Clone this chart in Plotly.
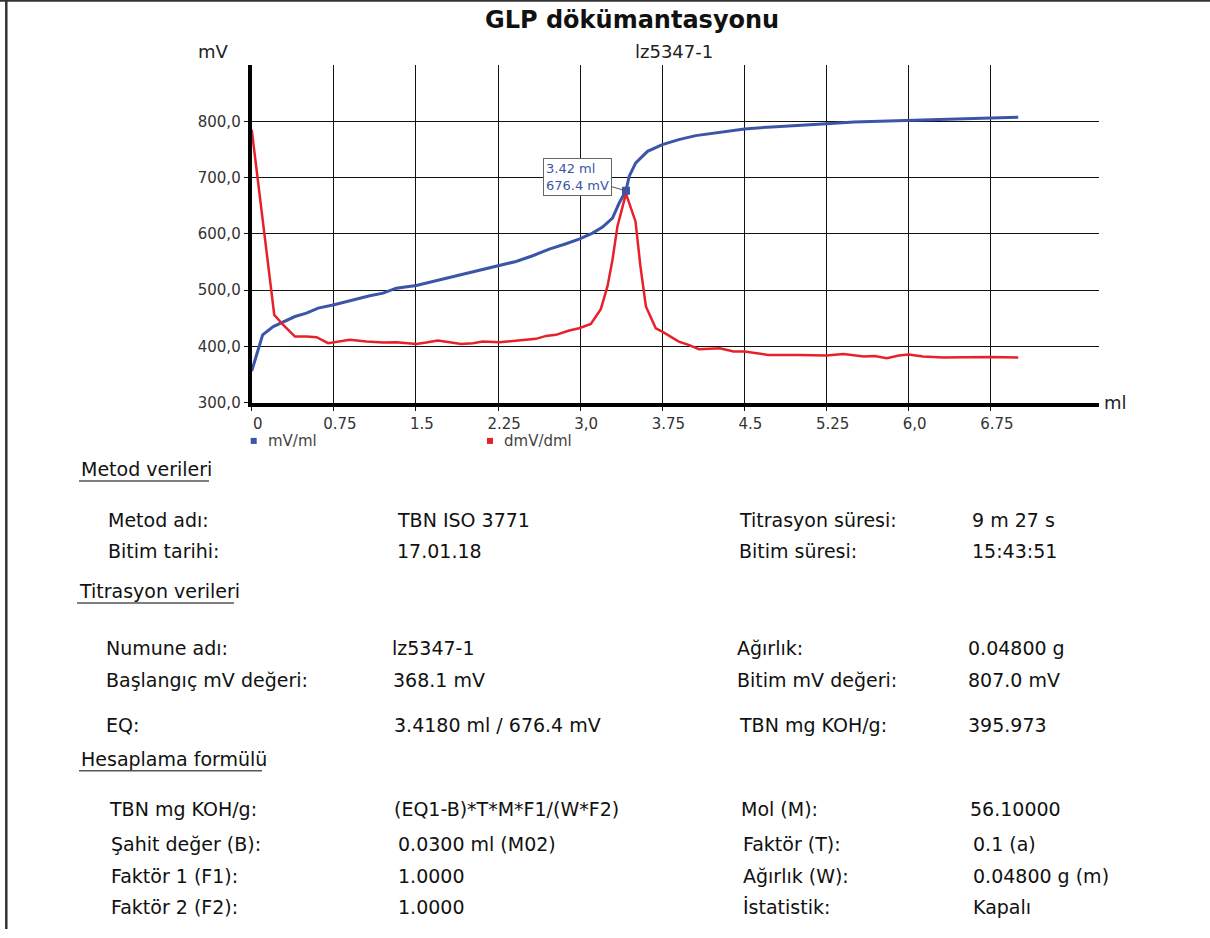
import plotly.graph_objects as go

# ---------------- data ----------------
mv_ml_x = [0.0, 0.10, 0.197, 0.395, 0.50, 0.607, 0.753, 0.926, 1.078, 1.20, 1.32, 1.503,
           1.655, 1.807, 1.96, 2.11, 2.253, 2.414, 2.566, 2.718, 2.87, 2.99, 3.113, 3.204,
           3.295, 3.356, 3.418, 3.447, 3.507, 3.615, 3.75, 3.90, 4.055, 4.275, 4.50, 4.75,
           5.0, 5.25, 5.50, 5.78, 6.0, 6.25, 6.505, 6.75, 7.0]
mv_ml_y = [356, 420.4, 435.2, 453, 459, 467.9, 473.8, 482.7, 489.8, 494.5, 503.4, 508.2,
           515.3, 523, 530.1, 537.3, 543.8, 550.9, 561, 572.8, 582.3, 590.6, 601.3, 612,
           628, 654.7, 676.4, 702, 725.9, 746.6, 758.5, 767.4, 774.5, 780.4, 786.4, 790,
           793.5, 795.8, 798.8, 800.6, 802.4, 803.6, 804.7, 805.9, 807.0]

dmv_x = [0.0, 0.206, 0.288, 0.395, 0.50, 0.592, 0.698, 0.774, 0.896, 1.048, 1.20, 1.32,
         1.503, 1.594, 1.70, 1.807, 1.913, 2.02, 2.11, 2.262, 2.384, 2.505, 2.596, 2.688,
         2.779, 2.90, 2.99, 3.097, 3.188, 3.249, 3.295, 3.34, 3.418, 3.505, 3.55, 3.60,
         3.69, 3.75, 3.90, 3.99, 4.085, 4.275, 4.40, 4.50, 4.715, 5.0, 5.25, 5.405, 5.59,
         5.69, 5.80, 5.91, 6.0, 6.13, 6.32, 6.505, 6.75, 7.0]
dmv_y = [785, 456, 438, 417.4, 417.4, 416.3, 405.6, 407.4, 411.5, 408.5, 406.8, 407.4,
         404.4, 406.8, 410.3, 407.4, 404.4, 405.6, 408.5, 407.4, 409.7, 411.5, 413.3, 418.6,
         420.4, 428.1, 432.3, 440, 466.1, 506.4, 553.9, 613.2, 671.3, 622, 542, 470.8,
         432, 426, 408.5, 402.6, 395, 396.7, 390.8, 390.8, 384.8, 384.8, 383.6, 386.6, 381.8,
         383, 378.9, 383.6, 385.4, 381.8, 380, 380.6, 381.2, 380]

eq_ml = 3.418
eq_mv = 676.4

x_tickvals = [0, 0.75, 1.5, 2.25, 3.0, 3.75, 4.5, 5.25, 6.0, 6.75]
x_ticktext = ["0", "0.75", "1.5", "2.25", "3,0", "3.75", "4.5", "5.25", "6,0", "6.75"]
y_tickvals = [300, 400, 500, 600, 700, 800]
y_ticktext = ["300,0", "400,0", "500,0", "600,0", "700,0", "800,0"]

series_names = ["mV/ml", "dmV/dml"]

title_text = "GLP dökümantasyonu"
sample_text = "lz5347-1"

sections = [
    ("Metod verileri", 79, 469, 209),
    ("Titrasyon verileri", 77, 591, 234),
    ("Hesaplama formülü", 79, 759, 262),
]

rows = [
    # (y, label1, x1, value1, x2, label2, x3, value2, x4)
    (520, "Metod adı:", 106, "TBN ISO 3771", 395, "Titrasyon süresi:", 737, "9 m 27 s", 970),
    (551, "Bitim tarihi:", 106, "17.01.18", 395, "Bitim süresi:", 737, "15:43:51", 970),
    (648, "Numune adı:", 104, "lz5347-1", 390, "Ağırlık:", 735, "0.04800 g", 966),
    (680, "Başlangıç mV değeri:", 104, "368.1 mV", 391, "Bitim mV değeri:", 735, "807.0 mV", 966),
    (725, "EQ:", 104, "3.4180 ml / 676.4 mV", 392, "TBN mg KOH/g:", 737, "395.973", 966),
    (809, "TBN mg KOH/g:", 107, "(EQ1-B)*T*M*F1/(W*F2)", 392, "Mol (M):", 739, "56.10000", 968),
    (844, "Şahit değer (B):", 109, "0.0300 ml (M02)", 396, "Faktör (T):", 741, "0.1 (a)", 971),
    (876, "Faktör 1 (F1):", 109, "1.0000", 396, "Ağırlık (W):", 741, "0.04800 g (m)", 971),
    (907, "Faktör 2 (F2):", 109, "1.0000", 396, "İstatistik:", 741, "Kapalı", 971),
]

# ---------------- style ----------------
W, H = 1210, 938
KY = 1.0095  # vertical correction
BLUE = "#3b55a7"
RED = "#e8202a"
FONT = "DejaVu Sans"


def fx(p):
    return p / W


def fy(p):
    return 1 - p * KY / H


fig = go.Figure()
fig.add_trace(go.Scatter(x=mv_ml_x, y=mv_ml_y, mode="lines", name=series_names[0],
                         line=dict(color=BLUE, width=3), showlegend=False))
fig.add_trace(go.Scatter(x=dmv_x, y=dmv_y, mode="lines", name=series_names[1],
                         line=dict(color=RED, width=2.5), showlegend=False))
fig.add_trace(go.Scatter(x=[eq_ml], y=[eq_mv], mode="markers", name="EQ",
                         marker=dict(symbol="square", size=8, color=BLUE), showlegend=False))

x_px0, x_px1 = 251.7, 1098.5
px_per_ml = 109.5
y_px_top, y_px_bot = 65, 402.7

fig.update_xaxes(domain=[fx(x_px0), fx(x_px1)], range=[0, (x_px1 - x_px0) / px_per_ml],
                 tickvals=x_tickvals, ticktext=x_ticktext, showgrid=True, gridcolor="#111",
                 gridwidth=1, showline=True, linecolor="black", linewidth=4, zeroline=False,
                 ticks="outside", ticklen=4, tickcolor="#111", ticklabelshift=6,
                 tickfont=dict(family=FONT, size=15, color="#333"))
fig.update_yaxes(domain=[fy(y_px_bot), fy(y_px_top)], range=[300, 900],
                 tickvals=y_tickvals, ticktext=y_ticktext, showgrid=True, gridcolor="#111",
                 gridwidth=1, showline=True, linecolor="black", linewidth=4, zeroline=False,
                 ticks="outside", ticklen=4, tickcolor="#111",
                 tickfont=dict(family=FONT, size=15, color="#333"))

ann = []
shapes = []

# titles
ann.append(dict(text="<b>" + title_text + "</b>", x=fx(632), y=fy(20), xref="paper", yref="paper",
                xanchor="center", yanchor="middle", showarrow=False,
                font=dict(family=FONT, size=24, color="#111")))
ann.append(dict(text=sample_text, x=fx(633), y=fy(52), xref="paper", yref="paper",
                xanchor="left", yanchor="middle", showarrow=False,
                font=dict(family=FONT, size=18, color="#222")))
ann.append(dict(text="mV", x=fx(196), y=fy(52), xref="paper", yref="paper",
                xanchor="left", yanchor="middle", showarrow=False,
                font=dict(family=FONT, size=18, color="#222")))
ann.append(dict(text="ml", x=fx(1102), y=fy(403), xref="paper", yref="paper",
                xanchor="left", yanchor="middle", showarrow=False,
                font=dict(family=FONT, size=18, color="#222")))

# EQ callout
ann.append(dict(text=f"{eq_ml:.2f} ml<br>{eq_mv:.1f} mV", x=eq_ml, y=eq_mv, xref="x", yref="y",
                ax=-48, ay=-14, showarrow=True, arrowhead=0, arrowwidth=1, arrowcolor="#555",
                bordercolor="#666", borderwidth=1, borderpad=2, bgcolor="white", align="left",
                font=dict(family=FONT, size=13, color=BLUE)))

# legend (custom, matching original layout)
for name, color, sx in [(series_names[0], BLUE, 250.7), (series_names[1], RED, 487)]:
    shapes.append(dict(type="rect", xref="paper", yref="paper", x0=fx(sx), x1=fx(sx + 6),
                       y0=fy(444), y1=fy(438), fillcolor=color, line=dict(width=0)))
    ann.append(dict(text=name, x=fx(sx + 15), y=fy(441), xref="paper", yref="paper",
                    xanchor="left", yanchor="middle", showarrow=False,
                    font=dict(family=FONT, size=15, color="#444")))

# text panel
TF = dict(family=FONT, size=19, color="#111")
for text, x0, yc, x1 in sections:
    ann.append(dict(text=text, x=fx(x0), y=fy(yc), xref="paper", yref="paper",
                    xanchor="left", yanchor="middle", showarrow=False, font=TF))
    shapes.append(dict(type="line", xref="paper", yref="paper", x0=fx(x0), x1=fx(x1),
                       y0=fy(yc + 12), y1=fy(yc + 12), line=dict(color="#555", width=1.5)))

for yc, l1, x1, v1, x2, l2, x3, v2, x4 in rows:
    for t, xx in [(l1, x1), (v1, x2), (l2, x3), (v2, x4)]:
        ann.append(dict(text=t, x=fx(xx), y=fy(yc), xref="paper", yref="paper",
                        xanchor="left", yanchor="middle", showarrow=False, font=TF))

# page frame
shapes.append(dict(type="line", xref="paper", yref="paper", x0=0, x1=1, y0=fy(0.8), y1=fy(0.8),
                   line=dict(color="#333", width=2)))
shapes.append(dict(type="line", xref="paper", yref="paper", x0=fx(6.3), x1=fx(6.3), y0=0, y1=1,
                   line=dict(color="#333", width=2.5)))

fig.update_layout(width=W, height=H, autosize=False, margin=dict(l=0, r=0, t=0, b=0),
                  paper_bgcolor="white", plot_bgcolor="white", showlegend=False,
                  annotations=ann, shapes=shapes, font=dict(family=FONT))

fig.write_html("out.html", config={"displayModeBar": False},
               post_script="document.body.style.margin='0';document.body.style.overflow='hidden';")
